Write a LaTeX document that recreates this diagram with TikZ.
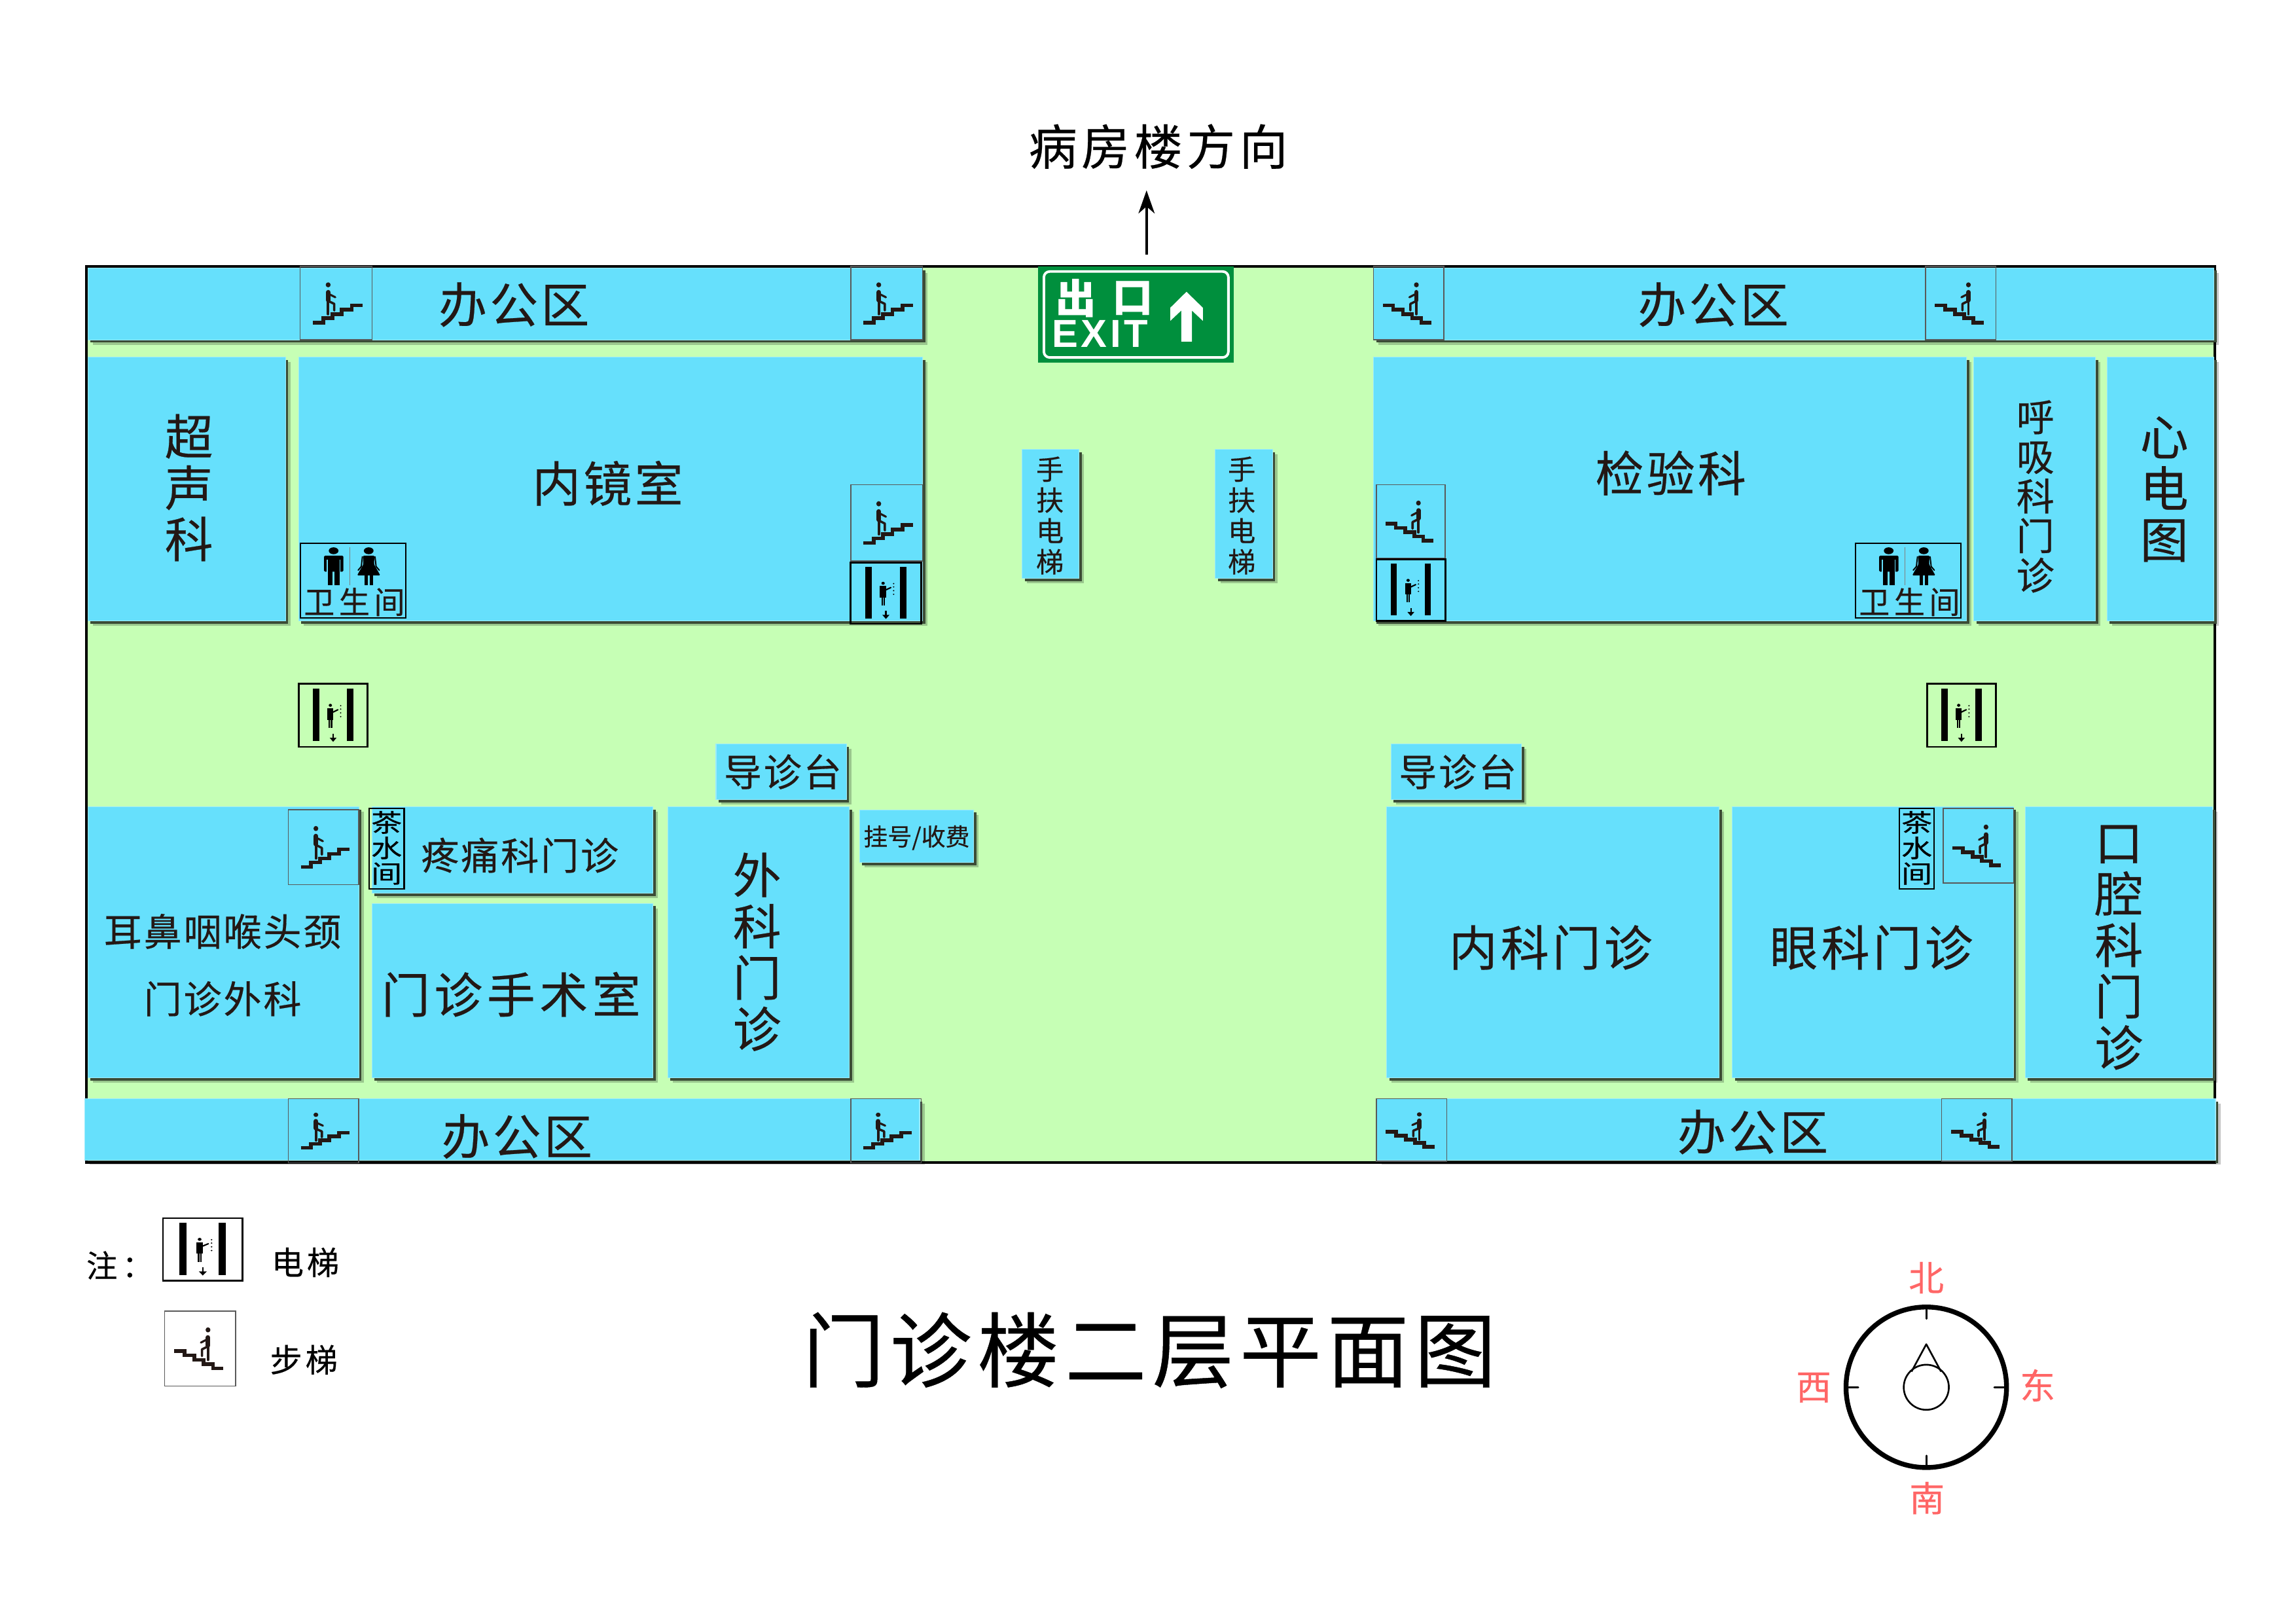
\documentclass[tikz,border=0pt]{standalone}
\usepackage{fontspec}
\usepackage{graphicx}
\setmainfont{Noto Sans CJK SC}[FakeBold=0.35]
\newfontfamily\exitfont{Liberation Sans}
\usetikzlibrary{arrows.meta}
\definecolor{floorc}{HTML}{C6FFB5}
\definecolor{roomc}{HTML}{66E0FC}
\definecolor{edgec}{HTML}{9CEBFD}
\definecolor{inkc}{HTML}{231815}
\definecolor{exitc}{HTML}{008F3D}
\definecolor{redc}{HTML}{FF6666}
\newcommand{\fz}[2]{\fontsize{#1pt}{#2pt}\selectfont}
\newcommand{\ls}[1]{\addfontfeature{LetterSpace=#1}}
\tikzset{
  x=0.02237cm,y=-0.02237cm,
  lbl/.style={inner sep=0pt,outer sep=0pt,align=center,text=inkc},
  big/.style={lbl,font=\fz{21}{22.3}\ls{6}},
  bigv/.style={lbl,font=\fz{21}{22.3}},
  mid/.style={lbl,font=\fz{16.5}{17.5}\ls{5}},
  midv/.style={lbl,font=\fz{16.5}{17.2}},
  smallv/.style={lbl,font=\fz{12}{13.4}},
  note/.style={lbl,text=black,font=\fz{14}{14.5}\ls{10}},
  dirn/.style={lbl,text=redc,font=\fz{15.3}{16}},
  stairline/.style={draw=inkc,line width=1.6pt,line join=miter,line cap=butt},
  boxthin/.style={draw=black!65,line width=0.4pt},
  boxlift/.style={draw=black,line width=0.8pt},
  boxwc/.style={draw=black,line width=0.5pt},
}
\newcommand{\roomrect}[4]{%
  \fill[black,opacity=.22,shift={(3.4,3.4)}] (#1,#2) rectangle (#3,#4);
  \fill[black!70!floorc,shift={(1.8,1.8)}] (#1,#2) rectangle (#3,#4);
  \fill[roomc,draw=edgec,line width=0.3pt] (#1,#2) rectangle (#3,#4);
}
\newcommand{\staircontent}{%
  \draw[stairline] (17.5,76.5)--(32,76.5)--(32,70.5)--(45,70.5)--(45,65)--(58,65)--(58,59)--(72,59)--(72,53)--(87,53);
  \fill[inkc] (39,25) circle (3.4);
  \draw[inkc,line width=1.9pt,line cap=round] (39,35)--(39,46);
  \draw[inkc,line width=1.1pt,line cap=round] (39,46)--(39,65);
  \draw[inkc,line width=1pt,line cap=round,line join=round] (39,47)--(47.5,51)--(47.5,60);
  \draw[inkc,line width=.9pt,line cap=round] (41,38)--(49,42);
}
\newcommand{\stairicon}[5]{%
  \draw[boxthin] (#1,#2) rectangle (#3,#4);
  \pgfmathsetmacro{\sw}{(#3-#1)/100}\pgfmathsetmacro{\sh}{(#4-#2)/100}%
  \ifnum#5=1
  \begin{scope}[shift={(#1,#2)},xscale=\sw,yscale=\sh]\staircontent\end{scope}
  \else
  \begin{scope}[shift={(#3,#2)},xscale=-\sw,yscale=\sh]\staircontent\end{scope}
  \fi
}
\newcommand{\lifticon}[4]{%
  \draw[boxlift] (#1,#2) rectangle (#3,#4);
  \pgfmathsetmacro{\sw}{(#3-#1)/100}\pgfmathsetmacro{\sh}{(#4-#2)/100}%
  \begin{scope}[shift={(#1,#2)},xscale=\sw,yscale=\sh]
    \fill[black] (20.8,7) rectangle (29.9,91);
    \fill[black] (70.1,7) rectangle (79.2,91);
    \fill[black] (46,34) circle (2.4);
    \fill[black] (41.5,38.5) rectangle (50,57);
    \fill[black] (43.5,57) rectangle (45.7,70);
    \fill[black] (46.5,57) rectangle (48.7,70);
    \draw[black,line width=.6pt,line cap=round] (49.5,45)--(57,41);
    \foreach \yy in {34.6,40,46,52}{\fill[black] (61,\yy) circle (1.1);}
    \fill[black] (49,79) rectangle (51,86);
    \fill[black] (45,85.5)--(55,85.5)--(50,92)--cycle;
  \end{scope}
}
\newcommand{\wcicon}[4]{%
  \draw[boxwc] (#1,#2) rectangle (#3,#4);
  \pgfmathsetmacro{\sw}{(#3-#1)/100}\pgfmathsetmacro{\sh}{(#4-#2)/100}%
  \begin{scope}[shift={(#1,#2)},xscale=\sw,yscale=\sh]
    \draw[black!50,line width=.3pt] (47,5)--(47,56);
    \fill[black] (31.7,10) circle (4.6);
    \fill[black,rounded corners=.5pt] (22.6,16.5) rectangle (41,38);
    \fill[roomc] (25.2,22) rectangle (26.2,38.2);
    \fill[roomc] (37.2,22) rectangle (38.4,38.2);
    \fill[black] (26,36) rectangle (30.9,56);
    \fill[black] (32.5,36) rectangle (37.4,56);
    \fill[black] (65,10) circle (4.6);
    \fill[black,rounded corners=.4pt] (59.5,16.5)--(70.5,16.5)--(70,28)--(76,43)--(54,43)--(60,28)--cycle;
    \draw[black,line width=.55pt,line cap=round] (59,18)--(58,31)--(55,36);
    \draw[black,line width=.55pt,line cap=round] (71,18)--(72,31)--(75,36);
    \fill[black] (60.8,43) rectangle (64,56);
    \fill[black] (66,43) rectangle (69.2,56);
  \end{scope}
}
\begin{document}
\begin{tikzpicture}
\path[use as bounding box,fill=white] (0,0) rectangle (1568,1108.6);
% floor
\fill[floorc] (59,182) rectangle (1512.5,794);
\draw[black,line width=1.1pt] (59,182) rectangle (1512.5,794);
% rooms
\roomrect{60}{183}{630}{232}
\roomrect{938}{183}{1512}{232}
\roomrect{60}{244}{195}{424}
\roomrect{204}{244}{630}{424}
\roomrect{938}{244}{1343}{424}
\roomrect{1348}{244}{1431}{424}
\roomrect{1439}{244}{1512}{424}
\roomrect{60}{551}{245}{736}
\roomrect{254}{551}{446}{610}
\roomrect{254}{617}{446}{736}
\roomrect{456}{551}{580}{736}
\roomrect{947}{551}{1174}{736}
\roomrect{1183}{551}{1375}{736}
\roomrect{1383}{551}{1511}{736}
\roomrect{58}{750.3}{628}{792.4}
\roomrect{940}{750.3}{1513}{792.4}
\roomrect{489}{508}{578}{546}
\roomrect{950}{508}{1039}{546}
\roomrect{587}{553}{665}{589}
\roomrect{698}{307}{737}{395}
\roomrect{830}{307}{869}{395}
\draw[black,line width=1.1pt] (59,182)--(1513,182);
\draw[black,line width=1.1pt] (58,793.6)--(1513,793.6);
\fill[white] (58,795) rectangle (1518,800);
% stairs
\stairicon{205}{182}{254}{232}{1}
\stairicon{581}{182}{630}{232}{1}
\stairicon{581}{331}{630}{383}{1}
\stairicon{197}{553}{245}{604}{1}
\stairicon{197}{750.3}{245}{794}{1}
\stairicon{581}{750.3}{629}{794}{1}
\stairicon{938}{182}{986}{232}{-1}
\stairicon{1315}{182}{1363}{232}{-1}
\stairicon{940}{331}{987}{381}{-1}
\stairicon{1327}{552}{1375}{603}{-1}
\stairicon{940}{750.3}{988}{793}{-1}
\stairicon{1326}{750.3}{1374}{793}{-1}
% lifts
\lifticon{581}{384}{629}{426}
\lifticon{940}{382}{987}{424}
\lifticon{204}{467}{251}{510}
\lifticon{1316}{467}{1363}{510}
% wc
\wcicon{205}{371}{277}{422}
\wcicon{1267}{371}{1339}{422}
\node[lbl,font=\fz{13.4}{14}\ls{14}] (wca) at (242,411) {卫生间};
\node[lbl,font=\fz{13.4}{14}\ls{14}] (wcb) at (1304,411) {卫生间};
% tea
\draw[black,line width=.6pt] (252,552) rectangle (276,607);
\draw[black,line width=.6pt] (1297,552) rectangle (1321,607);
\node[lbl,text=black,font=\fz{13.4}{11.1}] (teaa) at (264,579) {\scalebox{1}[.8]{茶}\\\scalebox{1}[.8]{水}\\\scalebox{1}[.8]{间}};
\node[lbl,text=black,font=\fz{13.4}{11.1}] (teab) at (1309,579) {\scalebox{1}[.8]{茶}\\\scalebox{1}[.8]{水}\\\scalebox{1}[.8]{间}};
% labels
\node[big] (o1) at (351,208) {办公区};
\node[big] (o2) at (1170,208) {办公区};
\node[big] (o3) at (353,776) {办公区};
\node[big] (o4) at (1197,773) {办公区};
\node[bigv] (r1) at (129,333) {超\\声\\科};
\node[big] (r2) at (415,330) {内镜室};
\node[big] (r3) at (1141,323) {检验科};
\node[midv] (r4) at (1390,339) {呼\\吸\\科\\门\\诊};
\node[bigv] (r5) at (1478,334) {心\\电\\图};
\node[mid] (r6) at (152,636) {耳鼻咽喉头颈};
\node[mid] (r6b) at (152,682) {门诊外科};
\node[mid] (r7) at (355,584) {疼痛科门诊};
\node[lbl,font=\fz{21}{22.3}\ls{9}] (r8) at (349,679) {门诊手术室};
\node[bigv] (r9) at (517,650) {外\\科\\门\\诊};
\node[lbl,font=\fz{21}{22.3}\ls{7}] (r10) at (1059,647) {内科门诊};
\node[lbl,font=\fz{21}{22.3}\ls{7}] (r11) at (1278,647) {眼科门诊};
\node[bigv] (r12) at (1447,647) {口\\腔\\科\\门\\诊};
\node[mid] (g1) at (534.5,527) {导诊台};
\node[mid] (g2) at (995.5,527) {导诊台};
\node[lbl,font=\fz{10.5}{12}] (g3) at (626,572) {挂号/收费};
\node[smallv] (e1) at (717,352) {手\\扶\\电\\梯};
\node[smallv] (e2) at (848,352) {手\\扶\\电\\梯};
% exit sign
\fill[exitc] (709,182) rectangle (842.6,247.6);
\draw[white,line width=1.1pt,rounded corners=2.5pt] (712.9,185.4) rectangle (838.9,244.1);
\node[lbl,text=white,font=\fz{17.5}{18}\bfseries] (ex1) at (734.6,203.5) {出};
\node[lbl,text=white,font=\fz{17.5}{18}\bfseries] (ex2) at (773.4,203.5) {口};
\node[lbl,text=white,font=\fz{17}{18}\exitfont\bfseries\addfontfeature{LetterSpace=8}] (ex3) at (751.3,228) {EXIT};
\begin{scope}[shift={(670.5,169.9)},scale=0.149]
\fill[white] (938,197)--(1013,270)--(1013,330)--(963,283)--(963,425)--(914,425)--(914,283)--(864,330)--(864,270)--cycle;
\end{scope}
% direction
\node[lbl,text=black,font=\fz{21}{22}\ls{9}] (dirl) at (791,100) {病房楼方向};
\coordinate (arrS) at (783,174);
\coordinate (arrE) at (783,130);
\draw[black,line width=1.2pt,-{Stealth[length=10pt,width=7pt,inset=3pt]}] (arrS)--(arrE);
% title
\node[lbl,text=black,font=\fz{35.5}{38}\ls{7}] (title) at (785,922) {门诊楼二层平面图};
% legend
\node[note,anchor=west,text=black,font=\fz{13.5}{14}] (n0) at (59,864) {注\hspace{.15em}：};
\fill[white] (111.3,831.8) rectangle (165.7,874.4);
\lifticon{111.3}{831.8}{165.7}{874.4}
\node[note] (n1) at (208.5,862) {电梯};
\fill[white] (112.4,895.3) rectangle (161,946.5);
\stairicon{112.4}{895.3}{161}{946.5}{-1}
\node[note] (n2) at (207.5,928.5) {步梯};
% compass
\coordinate (cc) at (1315.5,947.3);
\draw[black,line width=2.1pt] (cc) circle (54.8);
\draw[black,line width=.85pt,line cap=round] (1315.5,893.5)--(1315.5,900.5) (1315.5,994)--(1315.5,1001) (1261.8,947.3)--(1269,947.3) (1362,947.3)--(1369,947.3);
\draw[black,line width=.75pt] (cc) circle (15.4);
\draw[black,line width=.75pt,line join=round] (1305.4,936.6)--(1315.5,917.9)--(1325.6,936.6);
\node[dirn] (nb) at (1315.5,872.5) {北};
\node[dirn] (nn) at (1316,1023) {南};
\node[dirn] (nw) at (1238.6,947.5) {西};
\node[dirn] (ne) at (1391.5,946) {东};
\end{tikzpicture}
\end{document}
